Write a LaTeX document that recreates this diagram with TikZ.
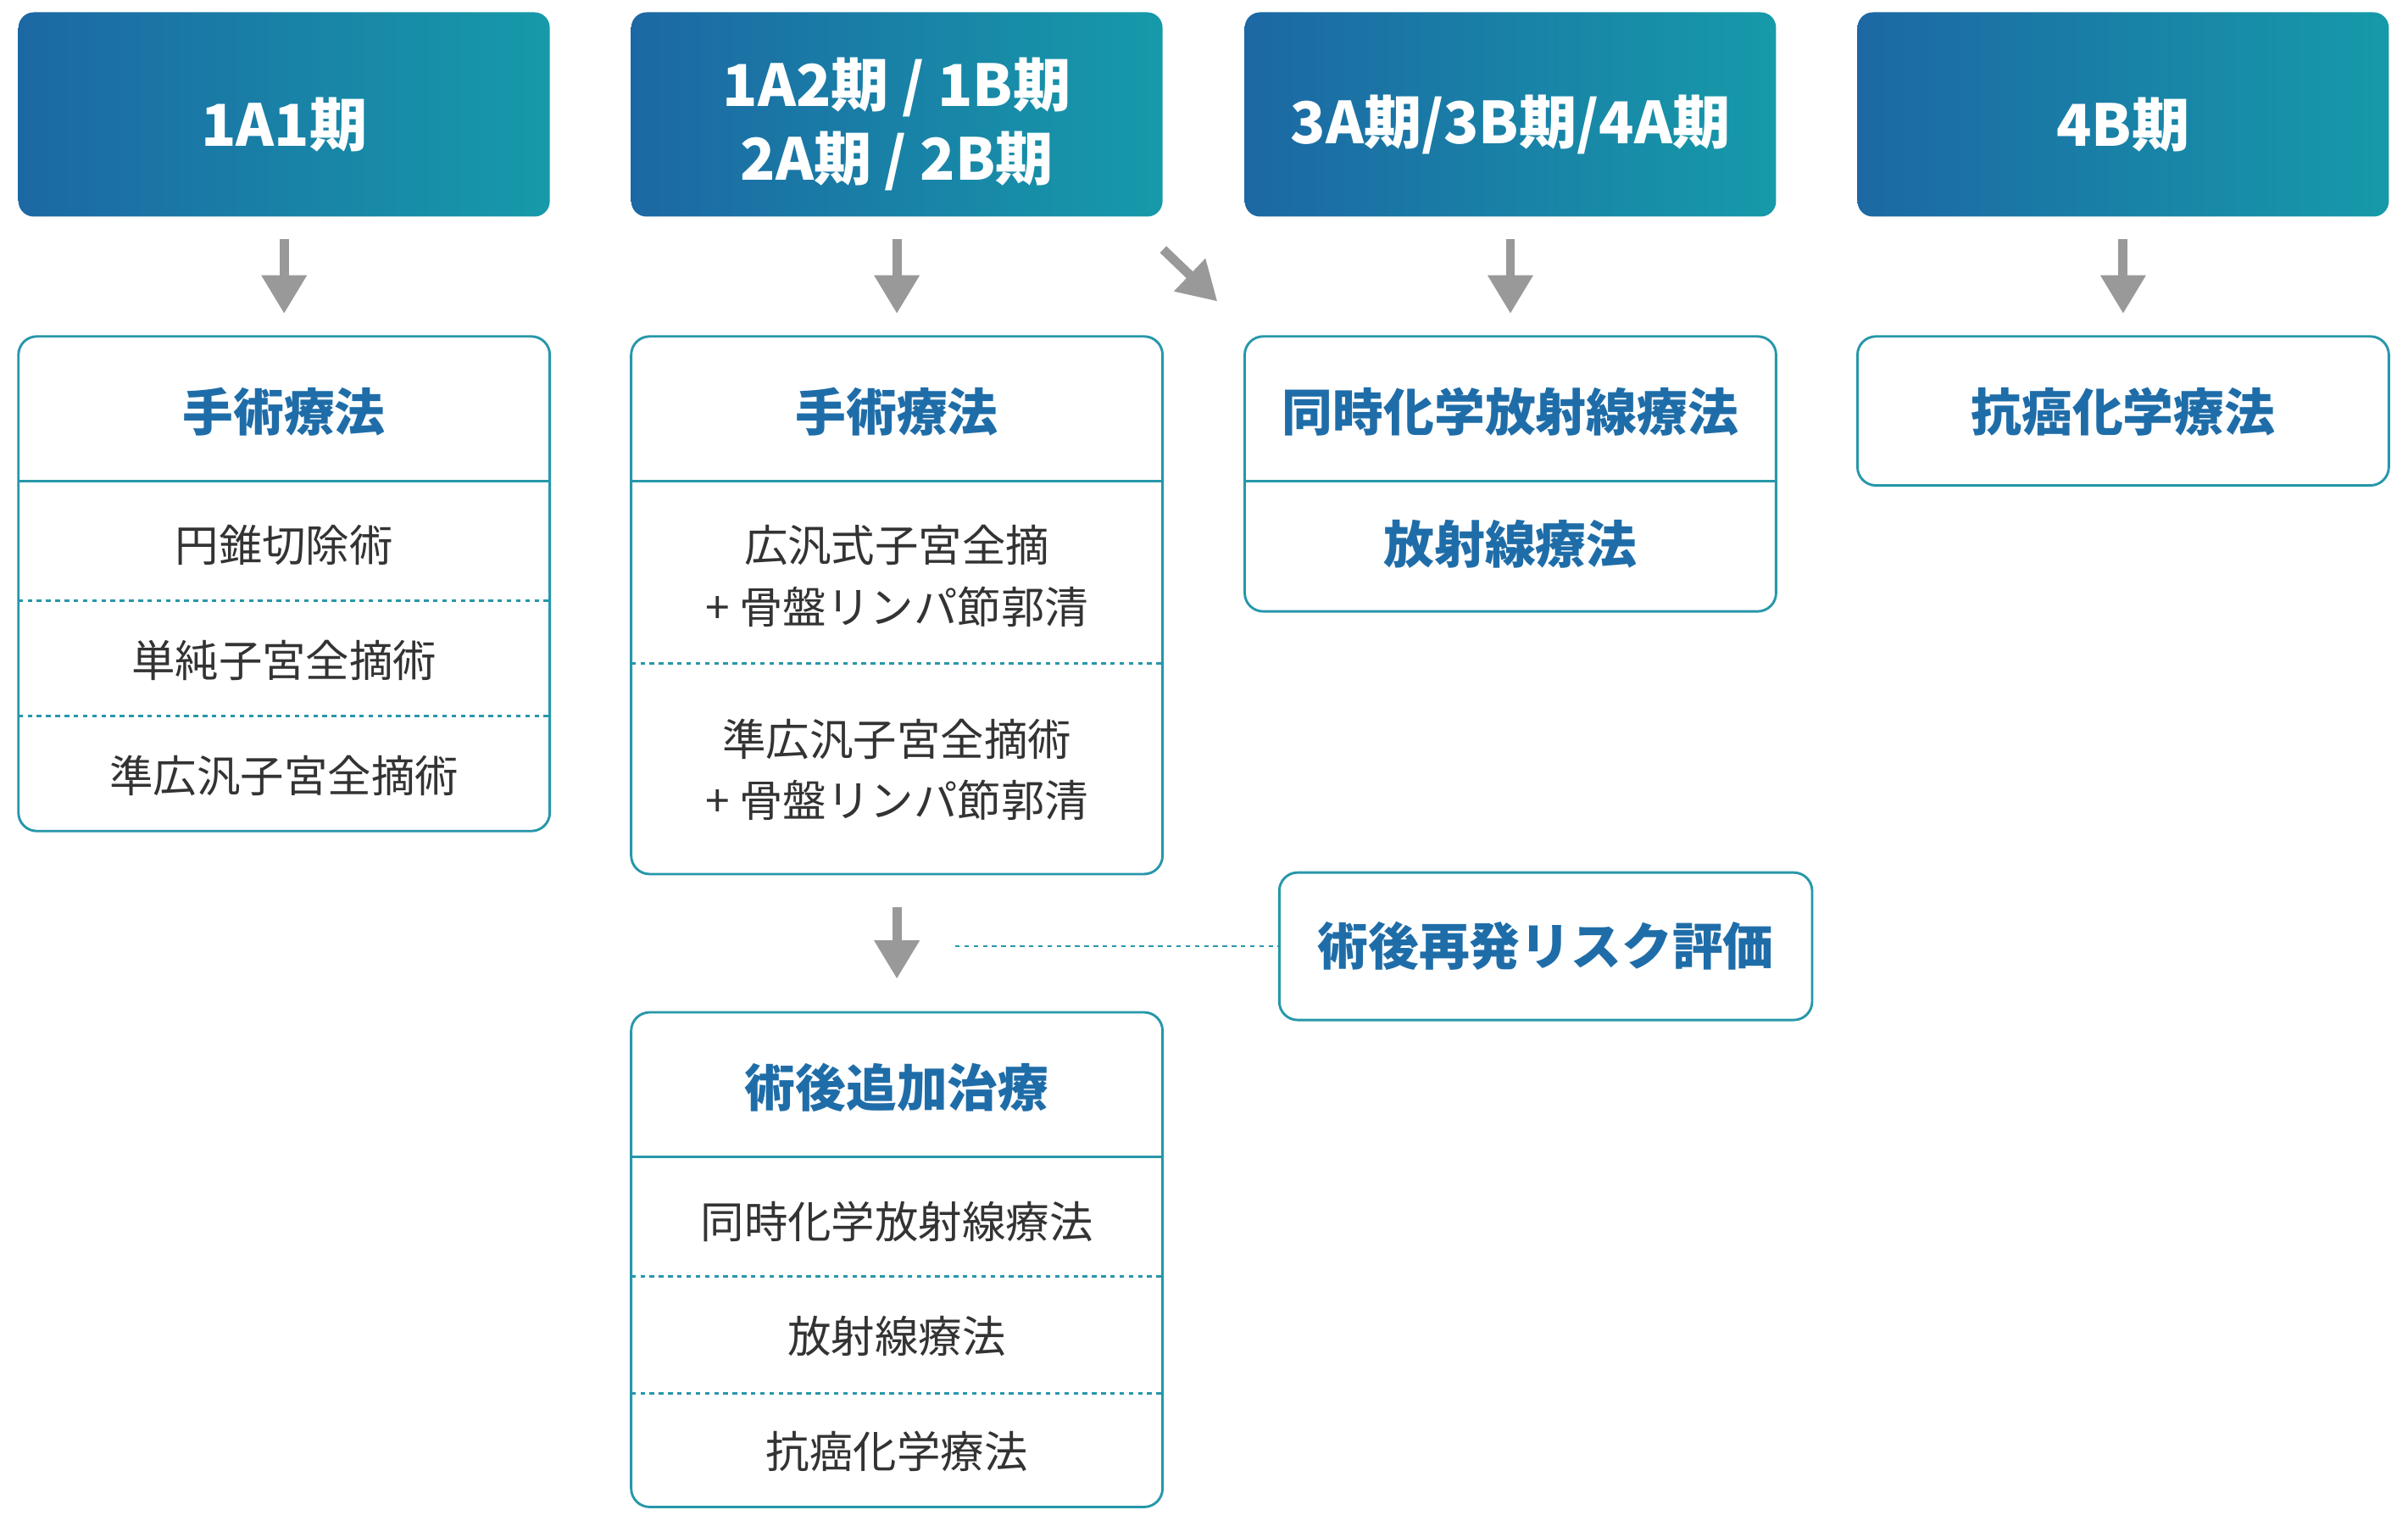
\documentclass[tikz,border=0pt]{standalone}
\usepackage{fontspec}
\setmainfont{Noto Sans CJK JP}
\usetikzlibrary{arrows.meta,calc}
\definecolor{gA}{HTML}{1C68A4}
\definecolor{gB}{HTML}{169AA9}
\definecolor{bord}{HTML}{2797AA}
\definecolor{ttl}{HTML}{1F6DA8}
\definecolor{txt}{HTML}{333333}
\definecolor{arr}{HTML}{999999}
\begin{document}
\begin{tikzpicture}[x=0.5pt,y=-0.5pt,
 hdr/.style={rounded corners=5pt, left color=gA, right color=gB, draw=none, minimum width=173pt, minimum height=66.5pt, inner sep=0pt},
 hdrtext/.style={text=white, font=\bfseries\fontsize{18.8}{24}\selectfont, align=center, inner sep=0pt},
 bx/.style={rounded corners=6pt, draw=bord, line width=0.8pt, fill=white, minimum width=173pt, inner sep=0pt},
 ttltext/.style={text=ttl, font=\bfseries\fontsize{16.5}{20}\selectfont, inner sep=0pt},
 bodytext/.style={text=txt, font=\fontsize{14.2}{20}\selectfont, align=center, inner sep=0pt},
 solidsep/.style={draw=bord, line width=0.8pt},
 dotsep/.style={draw=bord, line width=0.7pt, dash pattern=on 1.5pt off 1.5pt},
 garrow/.style={draw=arr, line width=3pt, -{Triangle[width=14pt,length=12.5pt]}},
]
\useasboundingbox (0,0) rectangle (1568,990);
% headers
\node[hdr] (h1) at (185,74.5) {};
\node[hdr] (h2) at (584,74.5) {};
\node[hdr] (h3) at (983.5,74.5) {};
\node[hdr] (h4) at (1382.5,74.5) {};
\node[hdrtext] (th1) at (185,81) {1A1期};
\node[hdrtext] (th2) at (584,81) {1A2期 / 1B期\\2A期 / 2B期};
\node[hdrtext] (th3) at (983.5,81) {3A期/3B期/4A期};
\node[hdrtext] (th4) at (1382.5,81) {4B期};
% boxes
\node[bx, minimum height=161pt] (b1) at (185,380) {};
\node[bx, minimum height=175pt] (b2) at (584,394) {};
\node[bx, minimum height=89.5pt] (b3) at (983.5,308.5) {};
\node[bx, minimum height=48.5pt] (b4) at (1382.5,267.5) {};
\node[bx, minimum width=173.5pt, minimum height=48pt] (risk) at (1006.5,616) {};
\node[bx, minimum height=161pt] (b5) at (584,820) {};
% separators
\draw[solidsep] (12,313) -- (358,313);
\draw[dotsep] (12,391) -- (358,391);
\draw[dotsep] (12,466) -- (358,466);
\draw[solidsep] (411,313) -- (757,313);
\draw[dotsep] (411,432) -- (757,432);
\draw[solidsep] (810,313) -- (1157,313);
\draw[solidsep] (411,753) -- (757,753);
\draw[dotsep] (411,831) -- (757,831);
\draw[dotsep] (411,907) -- (757,907);
% texts
\node[ttltext] (t1) at (185,268) {手術療法};
\node[bodytext] (t1a) at (185,355) {円錐切除術};
\node[bodytext] (t1b) at (185,430) {単純子宮全摘術};
\node[bodytext] (t1c) at (185,505) {準広汎子宮全摘術};
\node[ttltext] (t2) at (584,268) {手術療法};
\node[bodytext] (t2a) at (584,375) {広汎式子宮全摘\\+ 骨盤リンパ節郭清};
\node[bodytext] (t2b) at (584,501) {準広汎子宮全摘術\\+ 骨盤リンパ節郭清};
\node[ttltext] (t3) at (983.5,268) {同時化学放射線療法};
\node[ttltext] (t3a) at (983.5,354) {放射線療法};
\node[ttltext] (t4) at (1382.5,268) {抗癌化学療法};
\node[ttltext] (tr) at (1006.5,616) {術後再発リスク評価};
\node[ttltext] (t5) at (584,708) {術後追加治療};
\node[bodytext] (t5a) at (584,795) {同時化学放射線療法};
\node[bodytext] (t5b) at (584,870) {放射線療法};
\node[bodytext] (t5c) at (584,945) {抗癌化学療法};
% arrows
\draw[garrow, shorten <=7pt, shorten >=7pt] (h1) -- (b1);
\draw[garrow, shorten <=7pt, shorten >=7pt] (h2) -- (b2);
\draw[garrow, shorten <=7pt, shorten >=7pt] (h3) -- (b3);
\draw[garrow, shorten <=7pt, shorten >=7pt] (h4) -- (b4);
\draw[garrow] ($(h2.south east)+(0,21)$) -- ($(b3.north west)+(-17,-22)$);
\draw[garrow, shorten <=10.5pt, shorten >=10.5pt] (b2) -- (b5);
\coordinate (dl) at (622,616);
\draw[dotsep] (dl) -- (risk.west);
\end{tikzpicture}
\end{document}
